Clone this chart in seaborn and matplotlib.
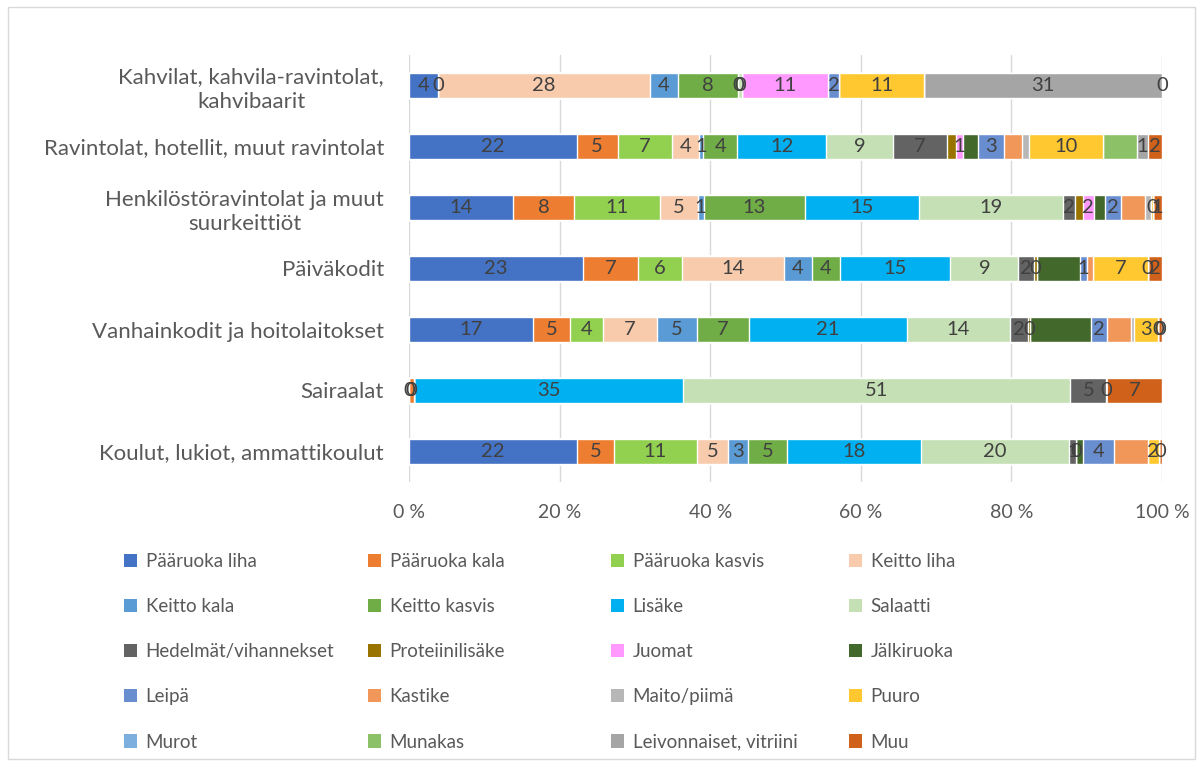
import numpy as np
import pandas as pd
import matplotlib
matplotlib.use("Agg")
import matplotlib.pyplot as plt
from matplotlib.patches import Patch, Rectangle
import seaborn as sns

# categories, top to bottom
categories = ["Kahvilat, kahvila-ravintolat,\nkahvibaarit",
              "Ravintolat, hotellit, muut ravintolat",
              "Henkilöstöravintolat ja muut\nsuurkeittiöt",
              "Päiväkodit",
              "Vanhainkodit ja hoitolaitokset",
              "Sairaalat",
              "Koulut, lukiot, ammattikoulut"]

series = ["Pääruoka liha", "Pääruoka kala", "Pääruoka kasvis", "Keitto liha",
          "Keitto kala", "Keitto kasvis", "Lisäke", "Salaatti",
          "Hedelmät/vihannekset", "Proteiinilisäke", "Juomat", "Jälkiruoka",
          "Leipä", "Kastike", "Maito/piimä", "Puuro",
          "Murot", "Munakas", "Leivonnaiset, vitriini", "Muu"]

colors = ["#4472C4", "#ED7D31", "#92D050", "#F8CBAD",
          "#5B9BD5", "#70AD47", "#00B0F0", "#C5E0B4",
          "#636363", "#997300", "#FF99FF", "#43682B",
          "#698ED0", "#F1975A", "#B7B7B7", "#FFC830",
          "#7CAFDD", "#8CC168", "#A5A5A5", "#D0611A"]

# share of each series per category
kahvilat = [3.9, 0, 0, 28.0, 3.7, 8.0, 0, 0.6, 0, 0, 11.3, 0, 1.5, 0, 0, 11.3, 0, 0, 31.5, 0]
ravintolat = [22.3, 5.4, 7.2, 3.6, 0.6, 4.5, 11.8, 8.9, 7.1, 1.2, 1.0, 1.9, 3.5, 2.4, 0.9, 9.8, 0, 4.6, 1.4, 1.9]
henkilosto = [13.8, 8.1, 11.3, 5.0, 0.8, 13.4, 15.1, 19.1, 1.6, 1.0, 1.5, 1.5, 2.1, 3.2, 0.7, 0.3, 0, 0, 0, 1.2]
paivakodit = [23.0, 7.3, 5.8, 13.5, 3.7, 3.7, 14.6, 9.0, 2.1, 0.4, 0, 5.6, 1.0, 0.8, 0, 7.2, 0, 0, 0, 1.9]
vanhainkodit = [16.5, 4.9, 4.3, 7.3, 5.2, 6.9, 21.0, 13.7, 2.4, 0.3, 0, 8.1, 2.1, 3.2, 0.4, 3.2, 0, 0, 0, 0.5]
sairaalat = [0, 0.6, 0, 0, 0, 0, 35.9, 51.5, 4.8, 0, 0, 0, 0, 0, 0, 0, 0, 0, 0, 7.4]
koulut = [22.3, 4.9, 11.0, 4.1, 2.7, 5.2, 17.7, 19.7, 0.9, 0, 0, 0.9, 4.1, 4.5, 0, 1.5, 0, 0, 0, 0.4]

# data labels as shown (None = no label)
N = None
lab_kahvilat = ["4", "0", N, "28", "4", "8", "0", "0", N, N, "11", N, "2", N, N, "11", N, N, "31", "0"]
lab_ravintolat = ["22", "5", "7", "4", "1", "4", "12", "9", "7", N, "1", N, "3", N, N, "10", N, N, "1", "2"]
lab_henkilosto = ["14", "8", "11", "5", "1", "13", "15", "19", "2", N, "2", N, "2", N, N, "0", N, N, N, "1"]
lab_paivakodit = ["23", "7", "6", "14", "4", "4", "15", "9", "2", "0", N, N, "1", N, N, "7", N, N, "0", "2"]
lab_vanhainkodit = ["17", "5", "4", "7", "5", "7", "21", "14", "2", "0", N, N, "2", N, N, "3", N, N, "0", "0"]
lab_sairaalat = ["0", "0", N, N, N, N, "35", "51", "5", N, N, N, N, N, N, N, N, N, "0", "7"]
lab_koulut = ["22", "5", "11", "5", "3", "5", "18", "20", "1", "0", N, N, "4", N, N, "2", N, N, N, "0"]

rows = [kahvilat, ravintolat, henkilosto, paivakodit, vanhainkodit, sairaalat, koulut]
labels = [lab_kahvilat, lab_ravintolat, lab_henkilosto, lab_paivakodit,
          lab_vanhainkodit, lab_sairaalat, lab_koulut]

vals = np.array(rows, dtype=float)
vals = vals / vals.sum(axis=1, keepdims=True) * 100
ends = np.cumsum(vals, axis=1)
starts = ends - vals

sns.set_theme(style="white")
plt.rcParams["font.family"] = ["Lato", "DejaVu Sans"]

fig = plt.figure(figsize=(12.03, 7.67), dpi=100)
ax = fig.add_axes([409 / 1203, 1 - 482 / 767, 753 / 1203, 427 / 767])

# stacked bars: draw cumulative totals from the last series backwards
for k in range(len(series) - 1, -1, -1):
    df = pd.DataFrame({"cat": categories, "end": ends[:, k]})
    sns.barplot(data=df, x="end", y="cat", orient="h", color=colors[k],
                saturation=1, width=0.4, ax=ax, zorder=2)

for i in range(len(categories)):
    for k in range(len(series)):
        t = labels[i][k]
        if t is None:
            continue
        ax.text((starts[i, k] + ends[i, k]) / 2, i, t, ha="center", va="center",
                fontsize=14.5, color="#404040", zorder=5)

ax.set_xlim(0, 100)
ax.set_ylim(6.5, -0.5)
ax.set_xticks([0, 20, 40, 60, 80, 100])
ax.set_xticklabels(["0 %", "20 %", "40 %", "60 %", "80 %", "100 %"])
ax.xaxis.grid(True, color="#d9d9d9", linewidth=1)
ax.set_axisbelow(True)
for s in ax.spines.values():
    s.set_visible(False)
ax.set_xlabel("")
ax.set_ylabel("")
ax.tick_params(axis="x", length=0, labelsize=14, colors="#595959", pad=16)
ax.tick_params(axis="y", length=0, labelsize=16, colors="#595959", pad=18)
for lbl in ax.get_yticklabels():
    lbl.set_multialignment("center")
    lbl.set_linespacing(1.3)

# legend: one block per column, filled row by row
handles = [Patch(facecolor=c, edgecolor="none") for c in colors]
col_x = [124, 368, 611, 849]
for c in range(4):
    idx = [r * 4 + c for r in range(5)]
    fig.legend([handles[j] for j in idx], [series[j] for j in idx],
               loc="upper left", bbox_to_anchor=(col_x[c] / 1203, 1 - 553 / 767),
               ncol=1, frameon=False, fontsize=13.5, handlelength=0.7,
               handleheight=0.7, handletextpad=0.45, labelspacing=1.5,
               borderpad=0, borderaxespad=0, labelcolor="#595959")

fig.patches.append(Rectangle((8 / 1203, 8 / 767), 1187 / 1203, 752 / 767,
                             transform=fig.transFigure, fill=False,
                             edgecolor="#d9d9d9", linewidth=1))

fig.savefig("out.png", dpi=100, facecolor="white")
